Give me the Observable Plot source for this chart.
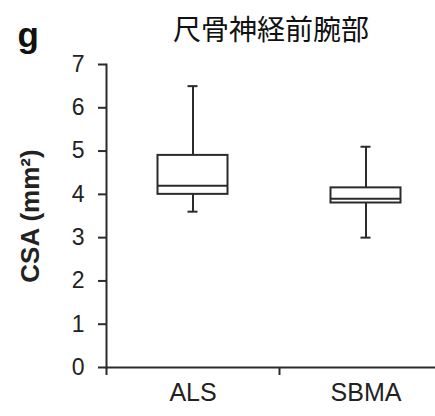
<!DOCTYPE html>
<html>
<head>
<meta charset="utf-8">
<script src="https://cdn.jsdelivr.net/npm/d3@7"></script>
<script src="https://cdn.jsdelivr.net/npm/@observablehq/plot@0.6"></script>
<style>
  html, body { margin: 0; padding: 0; background: #fff; }
  svg { display: block; }
</style>
</head>
<body>
<div id="chart"></div>
<script>
const categories = ["ALS", "SBMA"];
const mins    = [3.6, 3.0];
const q1s     = [4.0, 3.8];
const medians = [4.2, 3.9];
const q3s     = [4.9, 4.15];
const maxs    = [6.5, 5.1];
const yTicks  = [0, 1, 2, 3, 4, 5, 6, 7];
const title = "尺骨神経前腕部";
const panel = "g";
const yLabel = "CSA (mm²)";

const rows = categories.map((c, i) => ({cat: c, min: mins[i], q1: q1s[i], median: medians[i], q3: q3s[i], max: maxs[i]}));

const ink = "#2b2b2b";
const sans = "'Liberation Sans', Arial, sans-serif";
const band = 173;
const boxInset = (band - 70) / 2;
const capInset = (band - 10) / 2;

const chart = Plot.plot({
  width: 435,
  height: 416,
  marginLeft: 106,
  marginRight: 0,
  marginTop: 64,
  marginBottom: 49,
  style: {fontFamily: sans, background: "#fff", color: ink},
  x: {domain: categories, range: [106, 106 + 2 * band], padding: 0, axis: null},
  y: {domain: [0, 7], axis: null},
  marks: [
    Plot.ruleX(rows, {x: "cat", y1: "q3", y2: "max", stroke: ink, strokeWidth: 2}),
    Plot.ruleX(rows, {x: "cat", y1: "min", y2: "q1", stroke: ink, strokeWidth: 2}),
    Plot.tickY(rows, {x: "cat", y: "max", stroke: ink, strokeWidth: 2, insetLeft: capInset, insetRight: capInset}),
    Plot.tickY(rows, {x: "cat", y: "min", stroke: ink, strokeWidth: 2, insetLeft: capInset, insetRight: capInset}),
    Plot.barY(rows, {x: "cat", y1: "q1", y2: "q3", fill: "#fff", stroke: ink, strokeWidth: 2, insetLeft: boxInset, insetRight: boxInset}),
    Plot.tickY(rows, {x: "cat", y: "median", stroke: ink, strokeWidth: 2, insetLeft: boxInset, insetRight: boxInset}),
    Plot.frame({anchor: "left", stroke: ink, strokeWidth: 2}),
    Plot.frame({anchor: "bottom", stroke: ink, strokeWidth: 2}),
    Plot.ruleX(categories, {x: d => d, dx: -band / 2, y1: 0, y2: 0, insetBottom: -8, stroke: ink, strokeWidth: 2}),
    Plot.axisY({ticks: yTicks, tickSize: 8, tickPadding: 14, fontSize: 23, tickFormat: d => String(d), stroke: ink, strokeWidth: 2, fill: "#222", label: null}),
    Plot.axisX({tickSize: 0, tickPadding: 16, fontSize: 25, fill: "#222", label: null}),
    Plot.text([yLabel], {frameAnchor: "left", dx: -76, rotate: -90, fontSize: 26, fontWeight: "bold", fill: "#222", textAnchor: "middle", lineAnchor: "middle"}),
    Plot.text([title], {frameAnchor: "top", dy: -33, fontSize: 28, fontFamily: "'Noto Sans CJK JP', sans-serif", fill: "#111", textAnchor: "middle", lineAnchor: "middle"}),
    Plot.text([panel], {frameAnchor: "top-left", dx: -89, dy: -42, fontSize: 35, fontWeight: "bold", fill: "#111", textAnchor: "start", lineAnchor: "top"})
  ]
});
document.getElementById("chart").appendChild(chart);
</script>
</body>
</html>
